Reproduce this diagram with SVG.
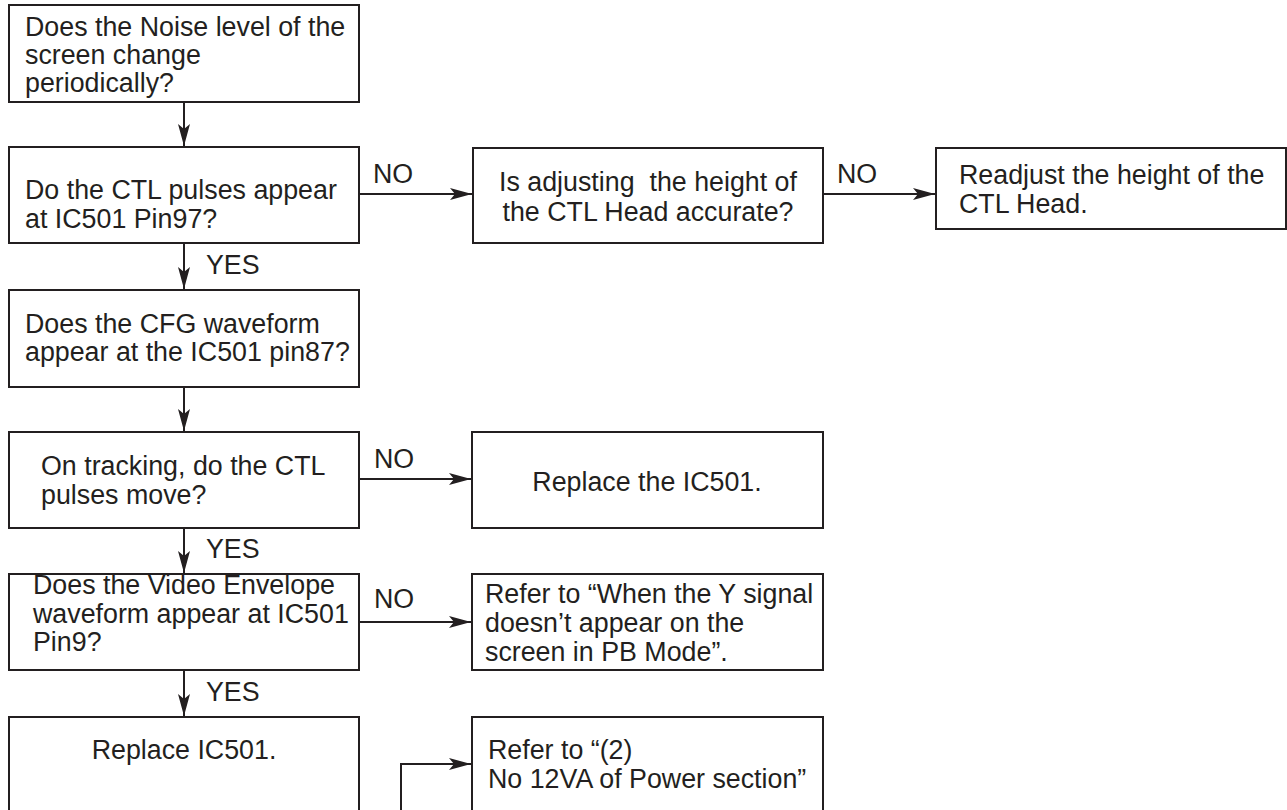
<svg xmlns="http://www.w3.org/2000/svg" width="1287" height="810" viewBox="0 0 1287 810">
<style>
.box{fill:#fff;stroke:#231f20;stroke-width:2}
.t{font-family:"Liberation Sans",Arial,sans-serif;font-size:26.8px;fill:#231f20;white-space:pre}
.c{text-anchor:middle}
.ln{fill:none;stroke:#231f20;stroke-width:2}
</style>
<defs>
<marker id="ah" markerUnits="userSpaceOnUse" markerWidth="24" markerHeight="14" refX="22" refY="6" orient="auto">
<path d="M0,0 L22,6 L0,12 L5,6 Z" fill="#231f20"/>
</marker>
</defs>
<rect width="1287" height="810" fill="#fff"/>
<g id="connectors">
<line class="ln" x1="184" y1="102" x2="184" y2="146" marker-end="url(#ah)"/>
<line class="ln" x1="359" y1="194" x2="472" y2="194" marker-end="url(#ah)"/>
<line class="ln" x1="823" y1="194" x2="935" y2="194" marker-end="url(#ah)"/>
<line class="ln" x1="184" y1="243" x2="184" y2="289" marker-end="url(#ah)"/>
<line class="ln" x1="184" y1="387" x2="184" y2="431" marker-end="url(#ah)"/>
<line class="ln" x1="359" y1="479" x2="471" y2="479" marker-end="url(#ah)"/>
<line class="ln" x1="184" y1="528" x2="184" y2="573" marker-end="url(#ah)"/>
<line class="ln" x1="359" y1="622" x2="471" y2="622" marker-end="url(#ah)"/>
<line class="ln" x1="184" y1="670" x2="184" y2="716" marker-end="url(#ah)"/>
<polyline class="ln" points="401,812 401,764 471,764" marker-end="url(#ah)"/>
<text class="t" x="373" y="183">NO</text>
<text class="t" x="837" y="183">NO</text>
<text class="t" x="206" y="274">YES</text>
<text class="t" x="374" y="468">NO</text>
<text class="t" x="206" y="558">YES</text>
<text class="t" x="374" y="608">NO</text>
<text class="t" x="206" y="701">YES</text>
</g>
<g id="n1">
<rect class="box" x="9" y="5" width="350" height="97"/>
<text class="t" x="25" y="36">Does the Noise level of the</text>
<text class="t" x="25" y="64">screen change</text>
<text class="t" x="25" y="92">periodically?</text>
</g>
<g id="n2">
<rect class="box" x="9" y="147" width="350" height="96"/>
<text class="t" x="25" y="199">Do the CTL pulses appear</text>
<text class="t" x="25" y="228">at IC501 Pin97?</text>
</g>
<g id="n3">
<rect class="box" x="473" y="148" width="350" height="95"/>
<text class="t c" x="648" y="191">Is adjusting  the height of</text>
<text class="t c" x="648" y="221">the CTL Head accurate?</text>
</g>
<g id="n4">
<rect class="box" x="936" y="148" width="350" height="81"/>
<text class="t" x="959" y="184">Readjust the height of the</text>
<text class="t" x="959" y="213">CTL Head.</text>
</g>
<g id="n5">
<rect class="box" x="9" y="290" width="350" height="97"/>
<text class="t" x="25" y="333">Does the CFG waveform</text>
<text class="t" x="25" y="361">appear at the IC501 pin87?</text>
</g>
<g id="n6">
<rect class="box" x="9" y="432" width="350" height="96"/>
<text class="t" x="41" y="475">On tracking, do the CTL</text>
<text class="t" x="41" y="504">pulses move?</text>
</g>
<g id="n7">
<rect class="box" x="472" y="432" width="351" height="96"/>
<text class="t c" x="647" y="491">Replace the IC501.</text>
</g>
<g id="n8">
<rect class="box" x="9" y="574" width="350" height="96"/>
<text class="t" x="33" y="594">Does the Video Envelope</text>
<text class="t" x="33" y="623">waveform appear at IC501</text>
<text class="t" x="33" y="651">Pin9?</text>
</g>
<g id="n9">
<rect class="box" x="472" y="574" width="351" height="96"/>
<text class="t" x="485" y="603">Refer to “When the Y signal</text>
<text class="t" x="485" y="632">doesn’t appear on the</text>
<text class="t" x="485" y="661">screen in PB Mode”.</text>
</g>
<g id="n10">
<rect class="box" x="9" y="717" width="350" height="110"/>
<text class="t c" x="184" y="759">Replace IC501.</text>
</g>
<g id="n11">
<rect class="box" x="472" y="717" width="351" height="110"/>
<text class="t" x="488" y="759">Refer to “(2)</text>
<text class="t" x="488" y="788">No 12VA of Power section”</text>
</g>
</svg>
